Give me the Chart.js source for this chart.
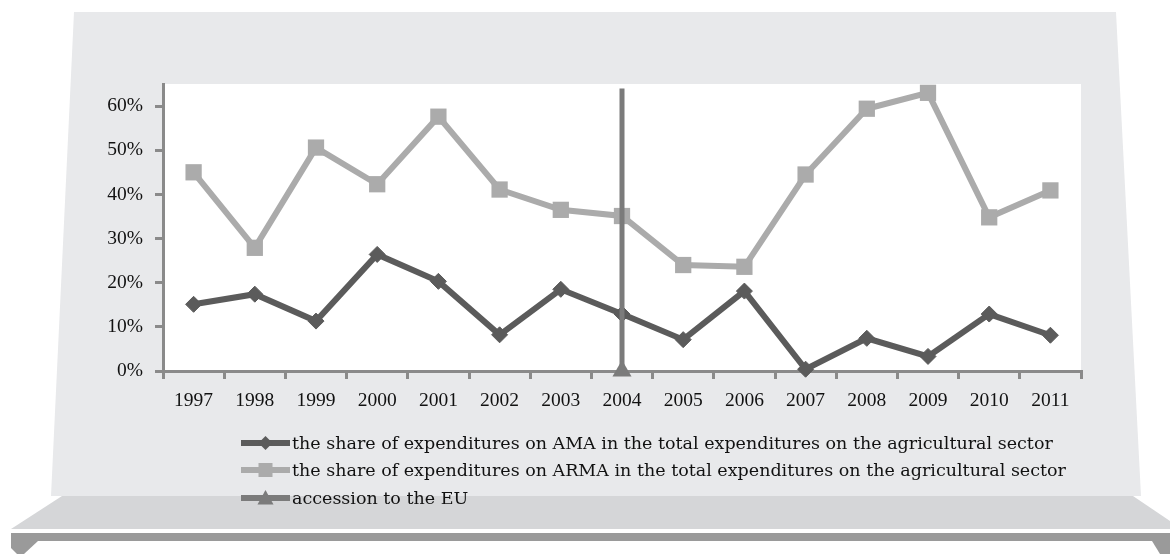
<!DOCTYPE html>
<html>
<head>
<meta charset="utf-8">
<script src="https://cdn.jsdelivr.net/npm/chart.js@4.4.0/dist/chart.umd.min.js"></script>
<style>
  html, body { margin: 0; padding: 0; background: #ffffff; }
  #wrap { width: 1170px; height: 554px; }
</style>
</head>
<body>
<div id="wrap"><canvas id="myChart" width="1170" height="554"></canvas></div>
<script>
const years = ["1997", "1998", "1999", "2000", "2001", "2002", "2003", "2004",
  "2005", "2006", "2007", "2008", "2009", "2010", "2011"];
const amaShare = [15.1, 17.4, 11.3, 26.4, 20.3, 8.2, 18.5, 12.9, 7.1, 18.1, 0.4, 7.4, 3.3, 12.9, 8.1];
const armaShare = [45.0, 27.9, 50.6, 42.3, 57.6, 41.1, 36.5, 35.1, 24.0, 23.6, 44.5, 59.4, 63.0, 34.8, 40.9];
const accessionYear = "2004";
const accessionLine = [0, 64];
const yTicks = [0, 10, 20, 30, 40, 50, 60];

const amaLabel = "the share of expenditures on AMA in the total expenditures on the agricultural sector";
const armaLabel = "the share of expenditures on ARMA in the total expenditures on the agricultural sector";
const accessionLabel = "accession to the EU";

const FONT = "'Liberation Serif', 'DejaVu Serif', serif";
const LEGEND_FONT = "'DejaVu Serif', 'Liberation Serif', serif";

// wall, floor and base drawn behind the chart
const backdrop = {
  id: "backdrop",
  beforeDraw(chart) {
    const ctx = chart.ctx;
    const a = chart.chartArea;
    ctx.save();
    // back wall
    ctx.fillStyle = "#e8e9eb";
    ctx.beginPath();
    ctx.moveTo(74, 12);
    ctx.lineTo(1116, 12);
    ctx.lineTo(1141, 496);
    ctx.lineTo(51, 496);
    ctx.closePath();
    ctx.fill();
    // floor
    ctx.fillStyle = "#d5d6d8";
    ctx.beginPath();
    ctx.moveTo(62, 496);
    ctx.lineTo(1133, 496);
    ctx.lineTo(1170, 521);
    ctx.lineTo(1170, 529);
    ctx.lineTo(11, 529);
    ctx.closePath();
    ctx.fill();
    // base band
    ctx.fillStyle = "#9a9a9a";
    ctx.fillRect(11, 533, 1159, 8);
    ctx.beginPath();
    ctx.moveTo(11, 541);
    ctx.lineTo(38, 541);
    ctx.lineTo(24, 554);
    ctx.lineTo(17, 554);
    ctx.lineTo(11, 548);
    ctx.closePath();
    ctx.fill();
    ctx.beginPath();
    ctx.moveTo(1152, 541);
    ctx.lineTo(1170, 541);
    ctx.lineTo(1170, 554);
    ctx.lineTo(1160, 554);
    ctx.closePath();
    ctx.fill();
    // plot area
    ctx.fillStyle = "#ffffff";
    ctx.fillRect(a.left, a.top, a.right - a.left, a.bottom - a.top);
    ctx.restore();
  }
};

// Excel-like legend: line with marker in the middle, then text
const sideLegend = {
  id: "sideLegend",
  afterDraw(chart) {
    const ctx = chart.ctx;
    const x0 = 241, x1 = 290, tx = 292;
    const rows = [443, 470, 498];
    ctx.save();
    chart.data.datasets.forEach((ds, i) => {
      const y = rows[i];
      const cx = (x0 + x1) / 2;
      const r = ds.legendRadius;
      ctx.strokeStyle = ds.borderColor;
      ctx.lineWidth = 6;
      ctx.beginPath();
      ctx.moveTo(x0, y);
      ctx.lineTo(x1, y);
      ctx.stroke();
      ctx.fillStyle = ds.pointBackgroundColor;
      ctx.beginPath();
      if (ds.pointStyle === "rectRot") {
        ctx.moveTo(cx, y - r); ctx.lineTo(cx + r, y); ctx.lineTo(cx, y + r); ctx.lineTo(cx - r, y);
      } else if (ds.pointStyle === "rect") {
        ctx.rect(cx - r, y - r, 2 * r, 2 * r);
      } else {
        ctx.moveTo(cx, y - r); ctx.lineTo(cx + r, y + r * 0.8); ctx.lineTo(cx - r, y + r * 0.8);
      }
      ctx.closePath();
      ctx.fill();
      ctx.fillStyle = "#111111";
      ctx.font = "17.5px " + LEGEND_FONT;
      ctx.textBaseline = "middle";
      ctx.textAlign = "left";
      ctx.fillText(ds.label, tx, y + 1);
    });
    ctx.restore();
  }
};

new Chart(document.getElementById("myChart").getContext("2d"), {
  type: "line",
  data: {
    labels: years,
    datasets: [
      {
        label: amaLabel,
        data: amaShare,
        borderColor: "#5b5b5b",
        borderWidth: 6,
        pointStyle: "rectRot",
        pointRadius: 8,
        pointBackgroundColor: "#5b5b5b",
        pointBorderColor: "#5b5b5b",
        pointBorderWidth: 1,
        legendRadius: 7,
        tension: 0,
        clip: false,
        order: 1
      },
      {
        label: armaLabel,
        data: armaShare,
        borderColor: "#ababab",
        borderWidth: 6,
        pointStyle: "rect",
        pointRadius: 11.5,
        pointBackgroundColor: "#ababab",
        pointBorderColor: "#ababab",
        pointBorderWidth: 0,
        legendRadius: 7,
        tension: 0,
        clip: false,
        order: 2
      },
      {
        label: accessionLabel,
        data: accessionLine.map(v => ({ x: accessionYear, y: v })),
        borderColor: "#7b7b7b",
        borderWidth: 5,
        pointStyle: "triangle",
        pointRadius: c => (c.dataIndex === 0 ? 11 : 0),
        pointBackgroundColor: "#7b7b7b",
        pointBorderColor: "#7b7b7b",
        pointBorderWidth: 0,
        legendRadius: 8,
        tension: 0,
        clip: false,
        order: 0
      }
    ]
  },
  options: {
    responsive: false,
    animation: false,
    events: [],
    layout: { padding: { left: 0, right: 89, top: 84, bottom: 143 } },
    plugins: {
      legend: { display: false },
      tooltip: { enabled: false },
      title: { display: false }
    },
    scales: {
      x: {
        type: "category",
        offset: true,
        grid: {
          offset: true,
          drawOnChartArea: false,
          drawTicks: true,
          tickLength: 8,
          color: "#8a8a8a",
          lineWidth: 3
        },
        border: { display: true, color: "#8a8a8a", width: 3 },
        ticks: {
          color: "#111111",
          font: { family: FONT, size: 19.5 },
          padding: 10,
          maxRotation: 0,
          autoSkip: false
        },
        afterFit(scale) { scale.height = 40; }
      },
      y: {
        min: 0,
        max: 65,
        grid: {
          drawOnChartArea: false,
          drawTicks: true,
          tickLength: 8,
          color: "#8a8a8a",
          lineWidth: 3
        },
        border: { display: true, color: "#8a8a8a", width: 3 },
        ticks: {
          color: "#111111",
          font: { family: FONT, size: 19.5 },
          padding: 12,
          callback: v => v + "%"
        },
        afterBuildTicks(scale) {
          scale.ticks = yTicks.map(v => ({ value: v }));
        },
        afterFit(scale) { scale.width = 163; }
      }
    }
  },
  plugins: [backdrop, sideLegend]
});
</script>
</body>
</html>
